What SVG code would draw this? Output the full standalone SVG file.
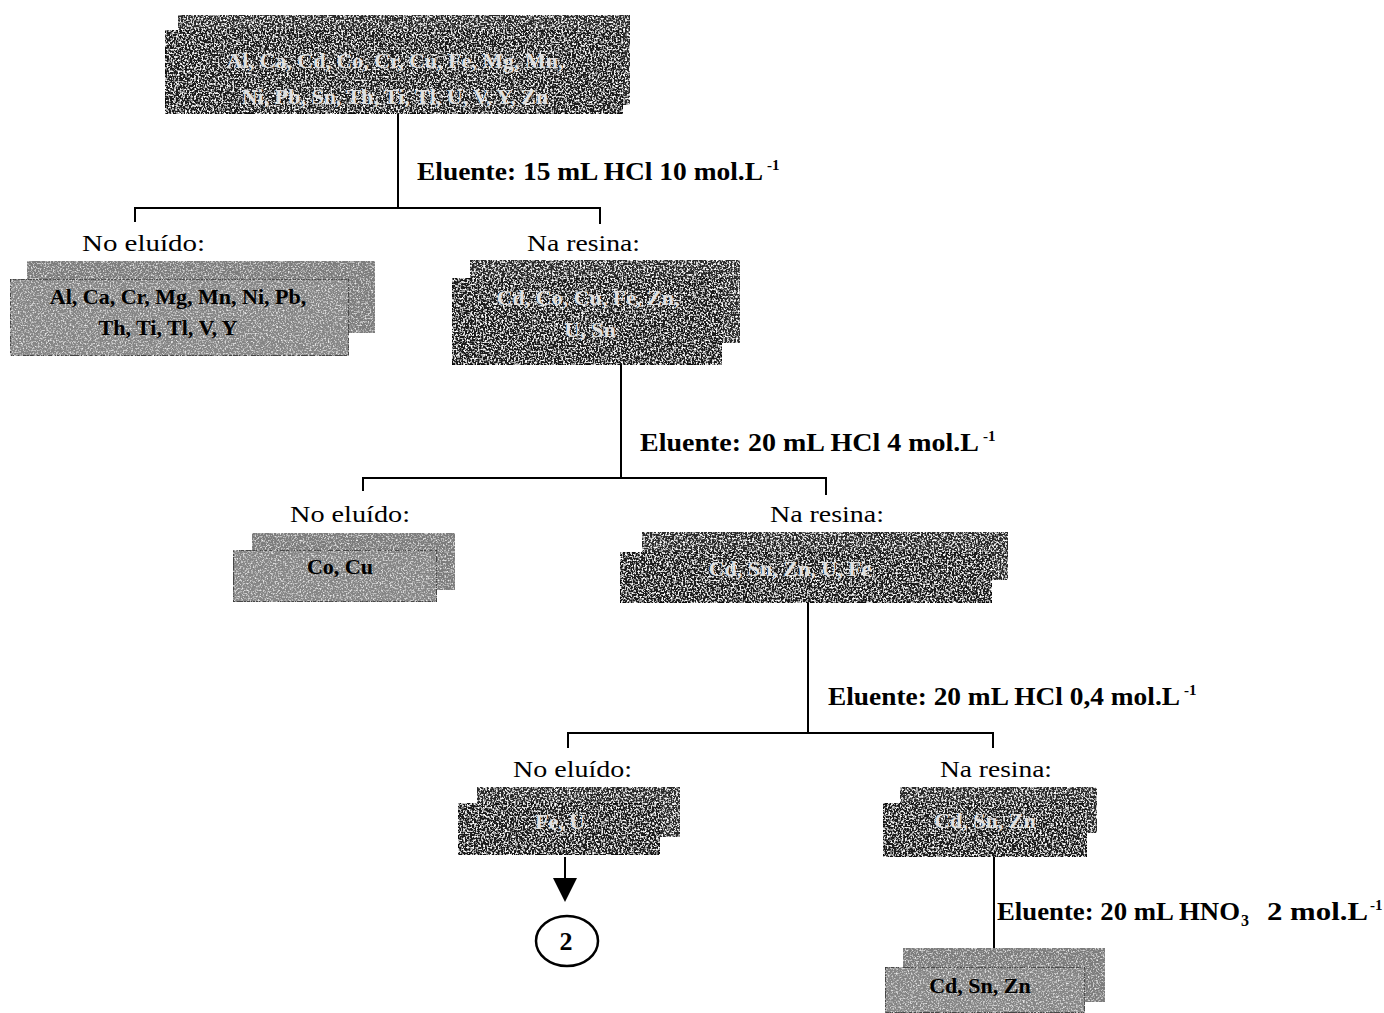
<svg xmlns="http://www.w3.org/2000/svg" width="1384" height="1013" viewBox="0 0 1384 1013">
<style>
.lbl{font-family:"Liberation Serif","Times New Roman",serif;font-weight:bold;font-size:26px;fill:#000}
.sub{font-family:"Liberation Serif","Times New Roman",serif;font-weight:bold;font-size:16px;fill:#000}
.sup{font-family:"Liberation Serif","Times New Roman",serif;font-weight:bold;font-size:15px;fill:#000}
.hd{font-family:"Liberation Serif","Times New Roman",serif;font-size:24px;fill:#000}
.bt{font-family:"Liberation Serif","Times New Roman",serif;font-weight:bold;font-size:22px;text-anchor:middle}
.bt.l{fill:#e0e0e0}
.bt.d{fill:#000}
.dkb{fill:#2a2a2a;filter:url(#grain)}
.dkf{fill:#1c1c1c;stroke:#000;stroke-width:1.5;filter:url(#grain)}
.grb{fill:#7c7c7c;filter:url(#grainl)}
.grf{fill:#858585;stroke:#333;stroke-width:1.5;filter:url(#grainl)}
.cn{stroke:#000;stroke-width:2;fill:none}
.num{font-family:"Liberation Serif","Times New Roman",serif;font-weight:bold;font-size:26px;text-anchor:middle;fill:#000}
</style>
<defs>
<filter id="grain" x="0" y="0" width="1" height="1" filterUnits="objectBoundingBox">
<feTurbulence type="fractalNoise" baseFrequency="0.55" numOctaves="2" seed="3" result="t"/>
<feColorMatrix in="t" type="matrix" values="0 0 0 0 1  0 0 0 0 1  0 0 0 0 1  4 0 0 0 -1.9" result="s"/>
<feComposite in="s" in2="SourceGraphic" operator="in" result="c"/>
<feMerge><feMergeNode in="SourceGraphic"/><feMergeNode in="c"/></feMerge>
</filter>
<filter id="grainl" x="0" y="0" width="1" height="1" filterUnits="objectBoundingBox">
<feTurbulence type="fractalNoise" baseFrequency="0.6" numOctaves="2" seed="7" result="t"/>
<feColorMatrix in="t" type="matrix" values="0 0 0 0 0.85  0 0 0 0 0.85  0 0 0 0 0.85  3 0 0 0 -1.45" result="s"/>
<feComposite in="s" in2="SourceGraphic" operator="in" result="c"/>
<feMerge><feMergeNode in="SourceGraphic"/><feMergeNode in="c"/></feMerge>
</filter>
<marker id="ah" markerUnits="userSpaceOnUse" markerWidth="26" markerHeight="26" refX="0" refY="12" orient="auto">
<path d="M0,0 L24,12 L0,24 Z" fill="#000"/>
</marker>
</defs>
<rect width="1384" height="1013" fill="#fff"/>

<g id="connectors">
<line class="cn" x1="398" y1="114" x2="398" y2="208"/>
<line class="cn" x1="135" y1="208" x2="601" y2="208"/>
<line class="cn" x1="135" y1="207" x2="135" y2="222"/>
<line class="cn" x1="600" y1="207" x2="600" y2="224"/>
<line class="cn" x1="621" y1="365" x2="621" y2="478"/>
<line class="cn" x1="363" y1="478" x2="827" y2="478"/>
<line class="cn" x1="363" y1="477" x2="363" y2="491"/>
<line class="cn" x1="826" y1="477" x2="826" y2="495"/>
<line class="cn" x1="808" y1="603" x2="808" y2="733"/>
<line class="cn" x1="568" y1="733" x2="994" y2="733"/>
<line class="cn" x1="568" y1="732" x2="568" y2="748"/>
<line class="cn" x1="993" y1="732" x2="993" y2="748"/>
<line class="cn" x1="994" y1="857" x2="994" y2="950"/>
<line class="cn" x1="565" y1="857" x2="565" y2="878" marker-end="url(#ah)"/>
</g>

<g id="labels">
<text class="lbl" x="417" y="180" textLength="346" lengthAdjust="spacingAndGlyphs">Eluente: 15 mL HCl 10 mol.L</text>
<text class="sup" x="767" y="170">-1</text>
<text class="lbl" x="640" y="451" textLength="339" lengthAdjust="spacingAndGlyphs">Eluente: 20 mL HCl 4 mol.L</text>
<text class="sup" x="983" y="441">-1</text>
<text class="lbl" x="828" y="705" textLength="352" lengthAdjust="spacingAndGlyphs">Eluente: 20 mL HCl 0,4 mol.L</text>
<text class="sup" x="1184" y="695">-1</text>
<text class="lbl" x="997" y="920" textLength="243" lengthAdjust="spacingAndGlyphs">Eluente: 20 mL HNO</text>
<text class="sub" x="1241" y="926">3</text>
<text class="lbl" x="1267" y="920" textLength="101" lengthAdjust="spacingAndGlyphs">2 mol.L</text>
<text class="sup" x="1370" y="910">-1</text>
<text class="hd" x="82" y="251" textLength="123" lengthAdjust="spacingAndGlyphs">No eluído:</text>
<text class="hd" x="527" y="251" textLength="113" lengthAdjust="spacingAndGlyphs">Na resina:</text>
<text class="hd" x="290" y="522" textLength="120" lengthAdjust="spacingAndGlyphs">No eluído:</text>
<text class="hd" x="770" y="522" textLength="114" lengthAdjust="spacingAndGlyphs">Na resina:</text>
<text class="hd" x="513" y="777" textLength="119" lengthAdjust="spacingAndGlyphs">No eluído:</text>
<text class="hd" x="940" y="777" textLength="112" lengthAdjust="spacingAndGlyphs">Na resina:</text>
</g>

<g id="node-sample">
<rect class="dkb" x="178" y="15" width="452" height="90"/>
<rect class="dkf" x="165" y="30" width="458" height="84"/>
<text class="bt l" x="395" y="68">Al, Ca, Cd, Co, Cr, Cu, Fe, Mg, Mn,</text>
<text class="bt l" x="395" y="104">Ni, Pb, Sn, Th, Ti, Tl, U, V, Y, Zn</text>
</g>

<g id="node-noeluido-1">
<rect class="grb" x="27" y="261" width="348" height="72"/>
<rect class="grf" x="10" y="279" width="339" height="77"/>
<text class="bt d" x="178" y="304">Al, Ca, Cr, Mg, Mn, Ni, Pb,</text>
<text class="bt d" x="168" y="335">Th, Ti, Tl, V, Y</text>
</g>

<g id="node-resina-1">
<rect class="dkb" x="470" y="260" width="270" height="83"/>
<rect class="dkf" x="452" y="278" width="270" height="87"/>
<text class="bt l" x="588" y="305">Cd, Co, Cu, Fe, Zn,</text>
<text class="bt l" x="590" y="337">U, Sn</text>
</g>

<g id="node-noeluido-2">
<rect class="grb" x="252" y="533" width="203" height="57"/>
<rect class="grf" x="233" y="550" width="204" height="52"/>
<text class="bt d" x="340" y="574">Co, Cu</text>
</g>

<g id="node-resina-2">
<rect class="dkb" x="642" y="532" width="366" height="48"/>
<rect class="dkf" x="620" y="552" width="372" height="51"/>
<text class="bt l" x="790" y="576">Cd, Sn, Zn, U, Fe</text>
</g>

<g id="node-noeluido-3">
<rect class="dkb" x="477" y="787" width="203" height="50"/>
<rect class="dkf" x="458" y="803" width="202" height="52"/>
<text class="bt l" x="560" y="829">Fe, U</text>
</g>

<g id="node-resina-3">
<rect class="dkb" x="900" y="787" width="197" height="46"/>
<rect class="dkf" x="883" y="803" width="204" height="54"/>
<text class="bt l" x="985" y="828">Cd, Sn, Zn</text>
</g>

<g id="node-eluido-4">
<rect class="grb" x="903" y="948" width="202" height="54"/>
<rect class="grf" x="885" y="967" width="200" height="46"/>
<text class="bt d" x="980" y="993">Cd, Sn, Zn</text>
</g>

<g id="node-2">
<ellipse cx="567" cy="941" rx="31" ry="25" fill="#fff" stroke="#000" stroke-width="2.5"/>
<text class="num" x="566" y="950">2</text>
</g>
</svg>
